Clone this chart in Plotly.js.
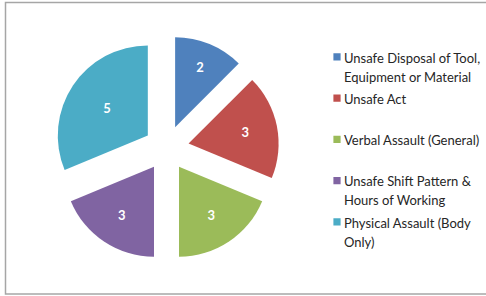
<!DOCTYPE html>
<html>
<head>
<meta charset="utf-8">
<script src="https://cdn.plot.ly/plotly-3.0.1.min.js"></script>
<style>
html,body{margin:0;padding:0;background:#fff;}
#chart{width:486px;height:296px;}
</style>
</head>
<body>
<div id="chart"></div>
<script>
var categories = [
  "Unsafe Disposal of Tool,<br>Equipment or Material",
  "Unsafe Act<br> ",
  "Verbal Assault (General)<br> ",
  "Unsafe Shift Pattern &<br>Hours of Working",
  "Physical Assault (Body<br>Only)"
];
var counts = [2, 3, 3, 3, 5];
var colors = ["#4F81BD", "#C0504D", "#9BBB59", "#8064A2", "#4BACC6"];

var legendLabels = categories.map(function(c){
  return c.split("<br>").map(function(s){ return '<span style="font-size:13px">' + s + '</span>'; }).join("<br>");
});

var trace = {
  type: "pie",
  labels: legendLabels,
  values: counts,
  sort: false,
  direction: "clockwise",
  rotation: 0,
  pull: [0.25, 0.25, 0.25, 0.25, 0.25],
  marker: {colors: colors, line: {width: 0}},
  textinfo: "value",
  textposition: "inside",
  insidetextorientation: "horizontal",
  textfont: {family: "Lato, 'Open Sans', sans-serif", size: 13, color: "#ffffff", weight: "bold"},
  hoverinfo: "label+value",
  domain: {x: [0.1111, 0.5741], y: [0.1199, 0.8801]}
};

var layout = {
  width: 486,
  height: 296,
  margin: {l: 0, r: 0, t: 0, b: 0},
  paper_bgcolor: "#ffffff",
  showlegend: true,
  legend: {
    x: 0.6256, xanchor: "left",
    y: 0.862, yanchor: "top",
    valign: "top",
    font: {family: "Lato, 'Open Sans', sans-serif", size: 14.7, color: "#262626"},
    bgcolor: "rgba(0,0,0,0)",
    traceorder: "normal"
  },
  shapes: [{
    type: "rect", xref: "paper", yref: "paper",
    x0: 5.5/486, x1: 1.02, y0: 1 - 294/296, y1: 1 - 2.5/296,
    line: {color: "#a6a6a6", width: 1.5}, fillcolor: "rgba(0,0,0,0)"
  }]
};

Plotly.newPlot("chart", [trace], layout, {staticPlot: true}).then(function(gd){
  var pts = gd.querySelectorAll(".legendpoints path.legendpie");
  pts.forEach(function(p){ p.setAttribute("transform", "translate(33,0) scale(0.6)"); });
});
</script>
</body>
</html>
